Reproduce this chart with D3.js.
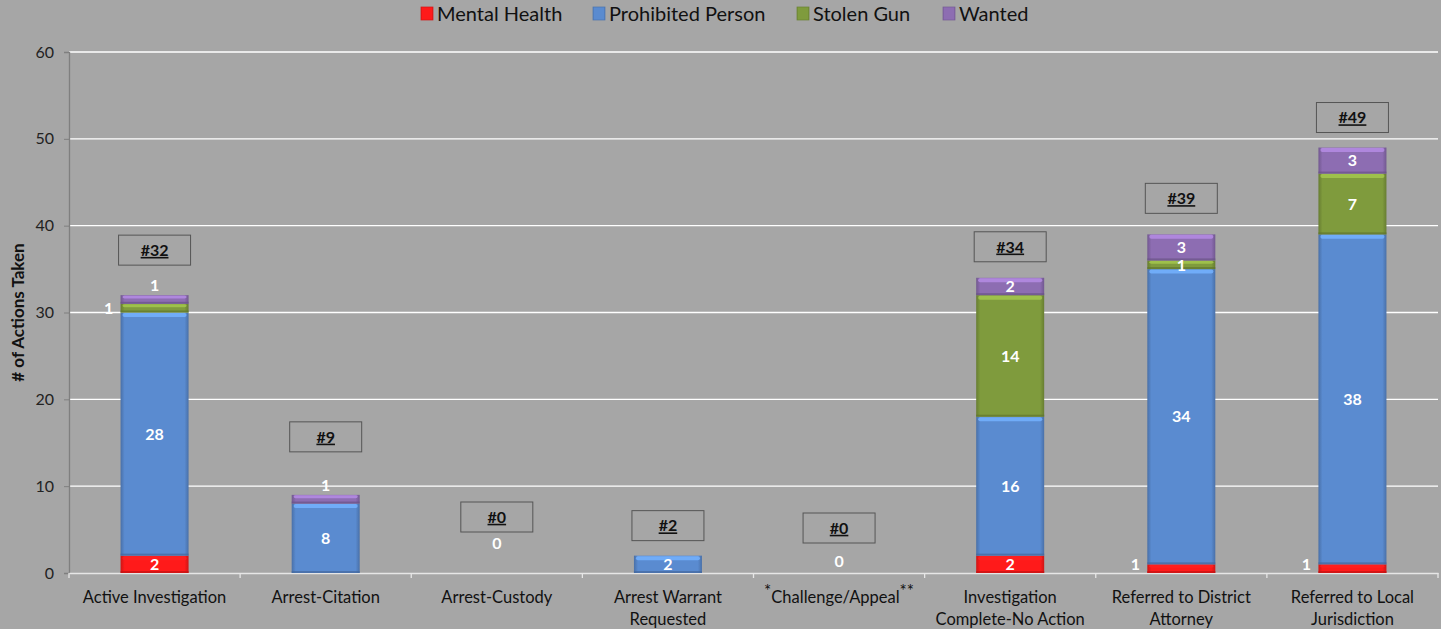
<!DOCTYPE html>
<html><head><meta charset="utf-8">
<script src="https://cdn.jsdelivr.net/npm/d3@7"></script>
<style>
html,body{margin:0;padding:0;background:#a6a6a6;}
svg{display:block;font-family:Lato,"Open Sans",sans-serif;}
</style></head>
<body>
<svg id="chart" width="1441" height="629"></svg>
<script>
// ---- data ----
const categories = ["Active Investigation","Arrest-Citation","Arrest-Custody","Arrest Warrant\nRequested","Challenge/Appeal","Investigation\nComplete-No Action","Referred to District\nAttorney","Referred to Local\nJurisdiction"];
const seriesNames = ["Mental Health","Prohibited Person","Stolen Gun","Wanted"];
const mentalHealth = [2,0,0,0,0,2,1,1];
const prohibitedPerson = [28,8,0,2,0,16,34,38];
const stolenGun = [1,0,0,0,0,14,1,7];
const wanted = [1,1,0,0,0,2,3,3];
const totals = [32,9,0,2,0,34,39,49];
const yTicks = [0,10,20,30,40,50,60];

// ---- layout / style ----
const colors = ["#ff1a1a","#5a8bd0","#7f9b3d","#8d6db2"];
const margin = {left:69, right:1438, top:52, bottom:573};
const boxOffsets = [-45,-58,-56,-30,-45,-31,-36,-30]; // px above bar top (box centre)
const zeroLabelOffsets = {2:-30, 4:-12};
const labelPlace = {"0|2":"left","0|3":"above","1|3":"above","6|0":"left","7|0":"left"};

const svg = d3.select("#chart");
const x = d3.scaleBand().domain(d3.range(categories.length)).range([margin.left, margin.right]).paddingInner(0).paddingOuter(0);
const y = d3.scaleLinear().domain([0,60]).range([margin.bottom, margin.top]);
const barW = 68;

// defs
const defs = svg.append("defs");
colors.forEach((c,i)=>{
  const g = defs.append("linearGradient").attr("id","g"+i).attr("x1",0).attr("x2",1).attr("y1",0).attr("y2",0);
  const dk = d3.color(c).darker(0.6), md = d3.color(c);
  g.append("stop").attr("offset","0%").attr("stop-color",dk);
  g.append("stop").attr("offset","6%").attr("stop-color",md);
  g.append("stop").attr("offset","94%").attr("stop-color",md);
  g.append("stop").attr("offset","100%").attr("stop-color",dk);
});

// gridlines
svg.append("g").selectAll("line").data(yTicks.filter(d=>d>0)).join("line")
  .attr("x1",margin.left).attr("x2",margin.right).attr("y1",d=>y(d)).attr("y2",d=>y(d))
  .attr("stroke","#ffffff").attr("stroke-width",1.3);

// y axis
const yAxis = svg.append("g").attr("transform",`translate(${margin.left},0)`)
  .call(d3.axisLeft(y).tickValues(yTicks).tickSize(5).tickPadding(10));
yAxis.select(".domain").attr("stroke","#7f7f7f").attr("stroke-width",1.3);
yAxis.selectAll(".tick line").attr("stroke","#7f7f7f");
yAxis.selectAll("text").attr("font-size",16).attr("fill","#222").attr("font-family","Lato,sans-serif");

svg.append("text").attr("transform",`translate(24,${(margin.top+margin.bottom)/2}) rotate(-90)`)
  .attr("text-anchor","middle").attr("font-size",17).attr("font-weight","bold").attr("fill","#111")
  .text("# of Actions Taken");

// x axis
const xAxis = svg.append("g").attr("transform",`translate(0,${margin.bottom})`)
  .call(d3.axisBottom(x).tickSize(0).tickFormat(""));
xAxis.select(".domain").attr("stroke","#e6e6e6").attr("stroke-width",1.5);
svg.append("g").selectAll("line").data(d3.range(categories.length+1)).join("line")
  .attr("x1",i=>margin.left + i*x.bandwidth()).attr("x2",i=>margin.left + i*x.bandwidth())
  .attr("y1",margin.bottom).attr("y2",margin.bottom+5).attr("stroke","#e6e6e6").attr("stroke-width",1.3);

const xl = svg.append("g");
categories.forEach((c,i)=>{
  const lines = c.split("\n");
  const t = xl.append("text").attr("x",x(i)+x.bandwidth()/2).attr("text-anchor","middle")
    .attr("font-size",16.5).attr("fill","#111");
  lines.forEach((ln,k)=>{
    const ts = t.append("tspan").attr("x",x(i)+x.bandwidth()/2).attr("y",margin.bottom+30+k*22);
    if (i===4){
      ts.append("tspan").text("*").attr("dy",-6).attr("font-size",17);
      ts.append("tspan").text(ln).attr("dy",6);
      ts.append("tspan").text("**").attr("dy",-6).attr("font-size",17);
    } else ts.text(ln);
  });
});

// stacked bars
const rows = categories.map((c,i)=>({i, s0:mentalHealth[i], s1:prohibitedPerson[i], s2:stolenGun[i], s3:wanted[i]}));
const stack = d3.stack().keys(["s0","s1","s2","s3"])(rows);
const bars = svg.append("g");
stack.forEach((layer,si)=>{
  layer.forEach(d=>{
    const v = d[1]-d[0];
    if (v<=0) return;
    const i = d.data.i;
    const cx = x(i)+x.bandwidth()/2;
    const y0 = y(d[0]), y1 = y(d[1]), h = y0-y1;
    const g = bars.append("g");
    g.append("rect").attr("x",cx-barW/2).attr("y",y1).attr("width",barW).attr("height",h)
      .attr("fill",`url(#g${si})`);
    const hl = Math.min(4,h/3);
    g.append("rect").attr("x",cx-barW/2+2).attr("y",y1+0.5).attr("width",barW-4).attr("height",hl)
      .attr("rx",2).attr("fill",d3.color(colors[si]).brighter(0.7)).attr("opacity",0.85);
    g.append("rect").attr("x",cx-barW/2).attr("y",y0-Math.min(2,h/4)).attr("width",barW).attr("height",Math.min(2,h/4))
      .attr("fill",d3.color(colors[si]).darker(0.8)).attr("opacity",0.7);
  });
});

// value labels
const vl = svg.append("g").attr("font-weight","bold").attr("font-size",16).attr("fill","#ffffff").attr("text-anchor","middle");
stack.forEach((layer,si)=>{
  layer.forEach(d=>{
    const v = d[1]-d[0];
    if (v<=0) return;
    const i = d.data.i;
    const cx = x(i)+x.bandwidth()/2;
    const place = labelPlace[i+"|"+si] || "center";
    let tx = cx, ty = (y(d[0])+y(d[1]))/2;
    if (place==="left"){ tx = cx - barW/2 - 12; if (si===0) ty -= 4; }
    if (place==="above"){ ty = y(d[1]) - 10; }
    vl.append("text").attr("x",tx).attr("y",ty).attr("dy","0.36em").text(v);
  });
});
Object.keys(zeroLabelOffsets).forEach(k=>{
  const i = +k;
  vl.append("text").attr("x",x(i)+x.bandwidth()/2).attr("y",y(0)+zeroLabelOffsets[k]).attr("dy","0.36em").text(totals[i]);
});

// total boxes
const tb = svg.append("g");
totals.forEach((t,i)=>{
  const cx = x(i)+x.bandwidth()/2;
  const cy = y(t) + boxOffsets[i];
  tb.append("rect").attr("x",cx-36).attr("y",cy-15).attr("width",72).attr("height",30)
    .attr("fill","none").attr("stroke","#555").attr("stroke-width",1);
  tb.append("text").attr("x",cx).attr("y",cy).attr("dy","0.36em").attr("text-anchor","middle")
    .attr("font-size",16).attr("font-weight","bold").attr("fill","#111").attr("text-decoration","underline")
    .text("#"+t);
});

// legend
const legX = [421,593,797,943];
const lg = svg.append("g");
seriesNames.forEach((n,si)=>{
  lg.append("rect").attr("x",legX[si]).attr("y",7).attr("width",12).attr("height",13)
    .attr("fill",`url(#g${si})`).attr("stroke",d3.color(colors[si]).darker(0.5)).attr("stroke-width",0.7);
  lg.append("text").attr("x",legX[si]+16).attr("y",14).attr("dy","0.36em").attr("font-size",20).attr("fill","#111").text(n);
});
</script>
</body></html>
